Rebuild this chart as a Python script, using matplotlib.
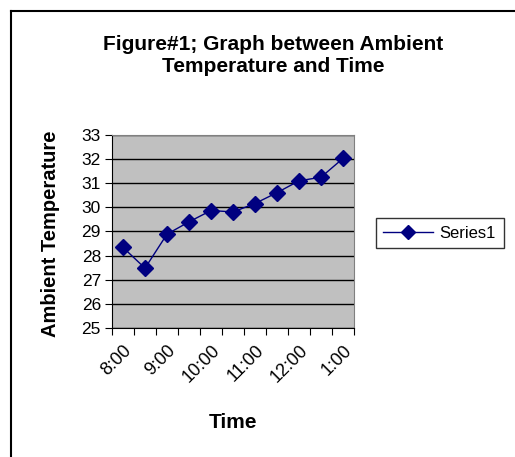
import matplotlib.pyplot as plt
from matplotlib.lines import Line2D

plt.rcParams['font.family'] = ['Liberation Sans', 'DejaVu Sans']

# data
times = ['8:00', '8:30', '9:00', '9:30', '10:00', '10:30',
         '11:00', '11:30', '12:00', '12:30', '1:00']
temps = [28.34, 27.48, 28.89, 29.40, 29.87, 29.81,
         30.16, 30.61, 31.10, 31.25, 32.03]

fig = plt.figure(figsize=(5.15, 4.57), dpi=100)
ax = fig.add_axes([0.2175, 0.2823, 0.4699, 0.4223])

x = list(range(len(times)))
ax.plot(x, temps, color='#000080', linewidth=1, marker='D',
        markersize=8, markerfacecolor='#000080', markeredgecolor='#000080',
        label='Series1', zorder=3)

ax.set_facecolor('#C0C0C0')
ax.set_xlim(-0.5, len(times) - 0.5)
ax.set_ylim(25, 33)
ax.set_yticks(range(25, 34))
ax.yaxis.grid(True, color='black', linewidth=1)
ax.set_axisbelow(True)

# tick marks between categories, labels on every other category
ax.set_xticks([i - 0.5 for i in range(len(times) + 1)])
ax.set_xticklabels([])
ax.set_xticks(x[::2], minor=True)
ax.set_xticklabels(times[::2], minor=True, rotation=45, ha='right',
                   rotation_mode='anchor', fontsize=13)
ax.tick_params(axis='x', which='minor', length=0, pad=10)
ax.tick_params(axis='x', which='major', length=5, direction='out', color='black')
ax.tick_params(axis='y', length=5, direction='out', labelsize=12.5, color='black', pad=3)

for side in ['top', 'right']:
    ax.spines[side].set_color('#808080')
for side in ['left', 'bottom']:
    ax.spines[side].set_color('black')

ax.set_xlabel('Time', fontsize=15, fontweight='bold', va='center')
ax.xaxis.set_label_coords(0.5, -0.49)
ax.set_ylabel('Ambient Temperature', fontsize=14.5, fontweight='bold', va='center')
ax.yaxis.set_label_coords(-0.255, 0.49)

fig.text(0.53, 0.878, 'Figure#1; Graph between Ambient\nTemperature and Time',
         ha='center', va='center', fontsize=15, fontweight='bold',
         linespacing=1.2)

leg = fig.legend(loc='center left', bbox_to_anchor=(0.713, 0.49),
                 fontsize=12, frameon=True, fancybox=False, handlelength=3.0,
                 handletextpad=0.4, borderpad=0.45, markerscale=0.85)
leg.get_frame().set_edgecolor('black')
leg.get_frame().set_linewidth(1)

# chart area border (only the top and left edges show)
fig.lines.append(Line2D([0.0214, 0.0214], [0.0, 0.976], transform=fig.transFigure,
                        color='black', linewidth=1.5))
fig.lines.append(Line2D([0.0214, 1.0], [0.976, 0.976], transform=fig.transFigure,
                        color='black', linewidth=1.5))

fig.savefig('out.png', dpi=100)
